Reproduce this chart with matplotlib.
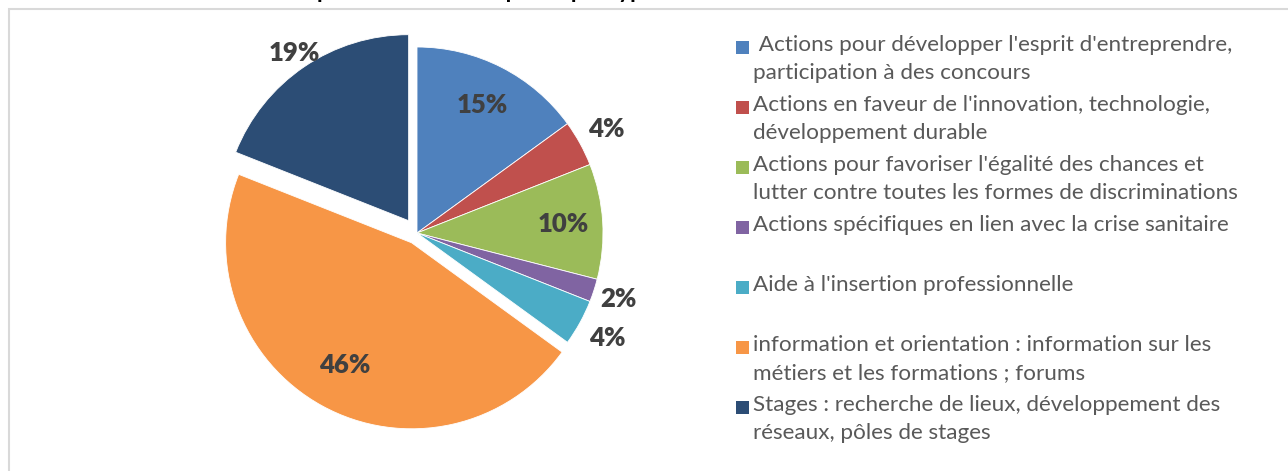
import numpy as np
import matplotlib
matplotlib.use('Agg')
import matplotlib.pyplot as plt
from matplotlib.patches import Rectangle

# share of each action type (percent)
labels = [
    " Actions pour développer l'esprit d'entreprendre,\nparticipation à des concours",
    "Actions en faveur de l'innovation, technologie,\ndéveloppement durable",
    "Actions pour favoriser l'égalité des chances et\nlutter contre toutes les formes de discriminations",
    "Actions spécifiques en lien avec la crise sanitaire",
    "Aide à l'insertion professionnelle",
    "information et orientation : information sur les\nmétiers et les formations ; forums",
    "Stages : recherche de lieux, développement des\nréseaux, pôles de stages",
]
values = [15, 4, 10, 2, 4, 46, 19]
colors = ['#4F81BD', '#C0504D', '#9BBB59', '#8064A2', '#4BACC6', '#F79646', '#2C4D75']
explode = [0, 0, 0, 0, 0, 0.06, 0.08]
# radial position of each percentage label, as a fraction of the radius
label_dist = [0.77, 1.16, 0.79, 1.14, 1.17, 0.75, 1.09]

title = "Répartition des entreprises par type d'action avec l'établissement scolaire"

W, H = 1288, 471
fig = plt.figure(figsize=(W / 100, H / 100), dpi=100)

# light grey chart frame (only top and left edges are inside the picture)
fig.patches.append(Rectangle((8.5 / W, -0.5), 2, (H - 8.5) / H + 0.5,
                             transform=fig.transFigure, fill=False,
                             edgecolor='#d9d9d9', lw=1.5))

# title, mostly cut off by the top of the picture
fig.text(663 / W, 1 + 2 / H, title, ha='center', va='baseline',
         fontsize=16.5, fontweight='bold', color='black', family='Lato')

# pie axes: centre (417, 233) px, radius 186 px
cx, cy, R = 417, 233, 186
lim = 1.25
size = 2 * R * lim
ax = fig.add_axes([(cx - size / 2) / W, (H - cy - size / 2) / H, size / W, size / H])
wedges, _ = ax.pie(values, colors=colors, explode=explode, startangle=90,
                   counterclock=False, radius=1,
                   wedgeprops=dict(edgecolor='white', linewidth=0.6))
ax.set_xlim(-lim, lim)
ax.set_ylim(-lim, lim)
ax.set_aspect('equal')
ax.axis('off')

for w, v, d in zip(wedges, values, label_dist):
    ang = np.deg2rad((w.theta1 + w.theta2) / 2)
    x = w.center[0] + d * w.r * np.cos(ang)
    y = w.center[1] + d * w.r * np.sin(ang)
    ax.text(x, y, f'{v}%', ha='center', va='center', fontsize=18.5,
            fontweight='heavy', color='#404040', family='Lato')

# legend drawn by hand: square + wrapped label, one entry every 60 px
for i, (lab, col) in enumerate(zip(labels, colors)):
    yc = 47 + 60 * i
    fig.patches.append(Rectangle((736 / W, (H - yc - 6.5) / H), 13 / W, 13 / H,
                                 transform=fig.transFigure, color=col, lw=0))
    fig.text(753 / W, (H - yc + 12) / H, lab, ha='left', va='top',
             fontsize=16.2, color='#595959', family='Lato', linespacing=1.5)

plt.savefig('out.png', dpi=100)
